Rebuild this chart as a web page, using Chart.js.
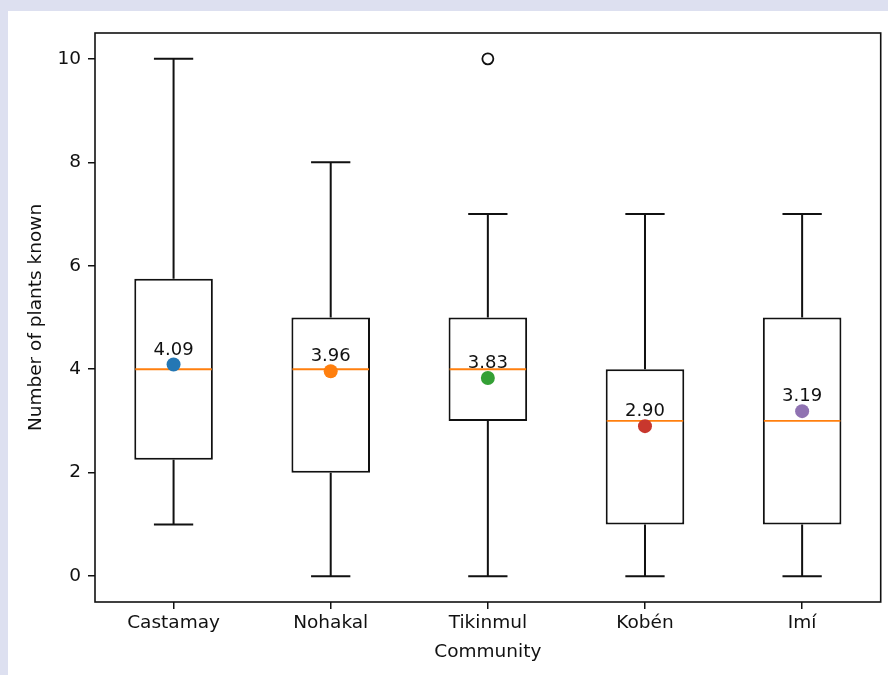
<!DOCTYPE html>
<html>
<head>
<meta charset="utf-8">
<script src="https://cdn.jsdelivr.net/npm/chart.js@4/dist/chart.umd.min.js"></script>
<style>
  html, body { margin: 0; padding: 0; }
  body { width: 888px; height: 675px; background: #dde0f0; overflow: hidden; position: relative; }
  #card { position: absolute; left: 8px; top: 11px; width: 880px; height: 664px; background: #ffffff; }
  canvas { display: block; }
</style>
</head>
<body>
<div id="card"><canvas id="chart" width="880" height="664"></canvas></div>
<script>
// Number of plants known per community: five-number summaries, means and outliers
const categories = ['Castamay', 'Nohakal', 'Tikinmul', 'Kobén', 'Imí'];
const whiskerLow = [1, 0, 0, 0, 0];
const q1 = [2.25, 2, 3, 1, 1];
const medians = [4, 4, 4, 3, 3];
const q3 = [5.75, 5, 5, 4, 5];
const whiskerHigh = [10, 8, 7, 7, 7];
const means = [4.09, 3.96, 3.83, 2.90, 3.19];
const outliers = [null, null, 10, null, null];
const yTicks = [0, 2, 4, 6, 8, 10];

const meanColors = ['#2477b4', '#ff7f0e', '#34a035', '#c8372d', '#8f72b2'];
const FONT = 'DejaVu Sans';
const INK = '#111111';

// whiskers, caps and median lines drawn right after the boxes
const boxParts = {
  id: 'boxParts',
  afterDatasetDraw(chart, args) {
    if (args.index !== 0) return;
    const { ctx, scales: { y } } = chart;
    const meta = chart.getDatasetMeta(0);
    ctx.save();
    meta.data.forEach((bar, i) => {
      const cx = bar.x;
      const half = bar.width / 2;
      const capHalf = half / 2;
      const yHi = y.getPixelForValue(whiskerHigh[i]);
      const yLo = y.getPixelForValue(whiskerLow[i]);
      const yQ1 = y.getPixelForValue(q1[i]);
      const yQ3 = y.getPixelForValue(q3[i]);
      ctx.strokeStyle = INK;
      ctx.lineWidth = 2;
      ctx.beginPath();
      ctx.moveTo(cx, yQ3); ctx.lineTo(cx, yHi);
      ctx.moveTo(cx, yQ1); ctx.lineTo(cx, yLo);
      ctx.moveTo(cx - capHalf, yHi); ctx.lineTo(cx + capHalf, yHi);
      ctx.moveTo(cx - capHalf, yLo); ctx.lineTo(cx + capHalf, yLo);
      ctx.stroke();
      const yMed = y.getPixelForValue(medians[i]);
      ctx.strokeStyle = '#ff7f0e';
      ctx.lineWidth = 1.8;
      ctx.beginPath();
      ctx.moveTo(cx - half + 1, yMed); ctx.lineTo(cx + half - 1, yMed);
      ctx.stroke();
    });
    ctx.restore();
  }
};

// value labels above the mean markers
const meanLabels = {
  id: 'meanLabels',
  afterDatasetsDraw(chart) {
    const { ctx } = chart;
    const meta = chart.getDatasetMeta(2);
    ctx.save();
    ctx.fillStyle = INK;
    ctx.font = '18px "' + FONT + '"';
    ctx.textAlign = 'center';
    ctx.textBaseline = 'alphabetic';
    meta.data.forEach((pt, i) => {
      ctx.fillText(means[i].toFixed(2), pt.x, pt.y - 10);
    });
    ctx.restore();
  }
};

// axes frame around the plotting area
const frame = {
  id: 'frame',
  afterDraw(chart) {
    const { ctx, chartArea: a } = chart;
    ctx.save();
    ctx.strokeStyle = INK;
    ctx.lineWidth = 1.6;
    ctx.strokeRect(a.left, a.top, a.right - a.left, a.bottom - a.top);
    ctx.restore();
  }
};

new Chart(document.getElementById('chart'), {
  type: 'bar',
  data: {
    labels: categories,
    datasets: [
      {
        label: 'IQR',
        data: categories.map((c, i) => [q1[i], q3[i]]),
        backgroundColor: '#ffffff',
        borderColor: INK,
        borderWidth: 2,
        borderSkipped: false,
        categoryPercentage: 1,
        barPercentage: 0.5,
        order: 3
      },
      {
        type: 'line',
        label: 'Outliers',
        data: outliers,
        showLine: false,
        pointRadius: 5.5,
        pointBorderWidth: 1.8,
        pointBorderColor: INK,
        pointBackgroundColor: 'rgba(0,0,0,0)',
        order: 2
      },
      {
        type: 'line',
        label: 'Mean',
        data: means,
        showLine: false,
        pointRadius: 7,
        pointBorderWidth: 0,
        pointBackgroundColor: meanColors,
        pointBorderColor: meanColors,
        order: 1
      }
    ]
  },
  options: {
    responsive: false,
    devicePixelRatio: 1,
    animation: false,
    events: [],
    layout: { padding: { left: 0, right: 4, top: 22, bottom: 0 } },
    plugins: { legend: { display: false }, tooltip: { enabled: false } },
    scales: {
      x: {
        offset: true,
        grid: { display: true, offset: false, drawOnChartArea: false, drawTicks: true, tickLength: 7, color: INK, lineWidth: 1.5 },
        border: { display: false },
        ticks: { color: INK, padding: 3, font: { family: FONT, size: 18.5 }, maxRotation: 0 },
        title: { display: true, text: 'Community', color: INK, font: { family: FONT, size: 18.5 }, padding: { top: 0, bottom: 12 } },
        afterFit(scale) { scale.height = 73; }
      },
      y: {
        min: -0.5,
        max: 10.5,
        afterBuildTicks(scale) { scale.ticks = yTicks.map(v => ({ value: v })); },
        grid: { display: true, drawOnChartArea: false, drawTicks: true, tickLength: 7, color: INK, lineWidth: 1.5 },
        border: { display: false },
        ticks: { color: INK, padding: 7, font: { family: FONT, size: 18.5 } },
        title: { display: true, text: 'Number of plants known', color: INK, font: { family: FONT, size: 18.5 }, padding: { top: 17, bottom: 0 } },
        afterFit(scale) { scale.width = 87; }
      }
    }
  },
  plugins: [boxParts, meanLabels, frame]
});
</script>
</body>
</html>
